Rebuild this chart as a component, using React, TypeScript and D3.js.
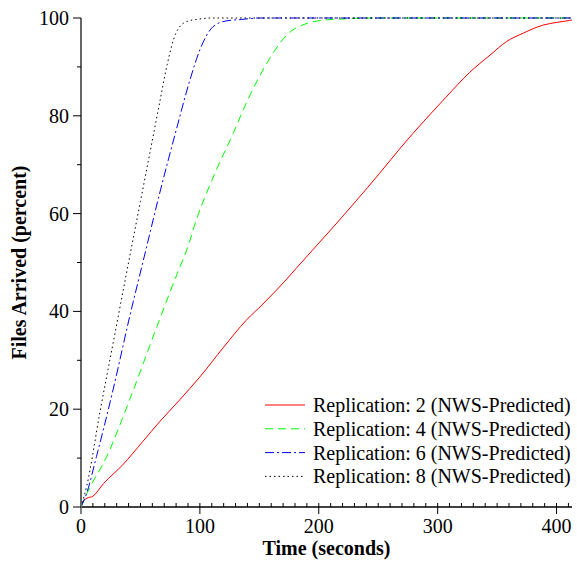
import React from "react";
import * as d3 from "d3";

const rep2T = [0, 2, 5, 10, 19, 35, 52, 66, 83, 100, 120, 139, 153, 173, 181, 195, 212, 251, 270, 307, 327, 344, 358, 372, 388, 400, 411, 413];
const rep2V = [0, 1.2, 1.8, 2.2, 4.8, 8.6, 13.4, 17.4, 21.9, 26.6, 32.7, 38.2, 41.5, 46.6, 48.8, 52.6, 57.2, 68.2, 73.8, 83.8, 88.9, 92.4, 95.2, 96.9, 98.5, 99.1, 99.5, 99.6];

const rep4T = [0, 5, 21.6, 41, 64, 83, 89, 97, 114, 128, 139, 150, 162, 173, 190, 206, 220, 240, 413];
const rep4V = [0, 2.8, 10.3, 22, 37, 49, 52.6, 58.7, 69, 76.4, 82.6, 88, 93, 96.5, 98.9, 99.6, 99.8, 100, 100];

const rep6T = [0, 5, 13, 27, 41, 53, 66, 80, 91.6, 100, 111, 122, 135, 150, 413];
const rep6V = [0, 3, 10.3, 24, 39, 51, 64, 77, 87.3, 93.5, 98.2, 99.4, 99.7, 100, 100];

const rep8T = [0, 5, 16, 27, 40, 50, 58, 66, 72.5, 80, 89, 97, 110, 413];
const rep8V = [0, 4.5, 19.5, 33.5, 50, 62.5, 72.5, 82.5, 90.5, 97, 99.3, 99.7, 100, 100];

const seriesNames = [
  "Replication: 2 (NWS-Predicted)",
  "Replication: 4 (NWS-Predicted)",
  "Replication: 6 (NWS-Predicted)",
  "Replication: 8 (NWS-Predicted)",
];
const xTicks = [0, 100, 200, 300, 400];
const yTicks = [0, 20, 40, 60, 80, 100];

const colors = ["#ff0000", "#00ff00", "#0000ff", "#000000"];
const dashes = ["none", "8,5", "9,3,2,3", "1.5,3"];

export default function App() {
  const W = 577, H = 562;
  const left = 81, right = 572, top = 18, bottom = 507;
  const x = d3.scaleLinear().domain([0, 413]).range([left, right]);
  const y = d3.scaleLinear().domain([0, 100]).range([bottom, top]);
  const line = d3.line<[number, number]>().x(d => x(d[0])).y(d => y(d[1])).curve(d3.curveMonotoneX);
  const series = [
    [rep2T, rep2V],
    [rep4T, rep4V],
    [rep6T, rep6V],
    [rep8T, rep8V],
  ].map(([t, v]) => t.map((tt, i) => [tt, v[i]] as [number, number]));

  const xMinor = d3.range(0, 414, 10);
  const yMinor = d3.range(10, 100, 20);
  const font = "'Liberation Serif', 'Times New Roman', serif";

  return (
    <svg width={W} height={H} style={{ position: "absolute", left: 0, top: 0, background: "#fff" }} fontFamily={font}>
      <rect width={W} height={H} fill="#fff" />
      {series.map((s, i) => (
        <path key={i} d={line(s) || ""} fill="none" stroke={colors[i]} strokeWidth={1}
          strokeDasharray={dashes[i]} />
      ))}
      {/* x axis */}
      <line x1={left} x2={right} y1={bottom} y2={bottom} stroke="#000" strokeWidth={1.5} />
      {xMinor.map(t => (
        <line key={"xm" + t} x1={x(t)} x2={x(t)} y1={bottom} y2={bottom - 4} stroke="#000" strokeWidth={1} />
      ))}
      {xTicks.map(t => (
        <g key={"xt" + t}>
          <line x1={x(t)} x2={x(t)} y1={bottom} y2={bottom + 7} stroke="#000" strokeWidth={1} />
          <text x={x(t)} y={533} textAnchor="middle" fontSize={20} fill="#000">{t}</text>
        </g>
      ))}
      {/* y axis */}
      <line x1={left} x2={left} y1={top} y2={bottom + 1} stroke="#666" strokeWidth={2} />
      {yMinor.map(v => (
        <line key={"ym" + v} x1={left} x2={left - 4} y1={y(v)} y2={y(v)} stroke="#000" strokeWidth={1} />
      ))}
      {yTicks.map(v => (
        <g key={"yt" + v}>
          <line x1={left} x2={left - 8} y1={y(v)} y2={y(v)} stroke="#000" strokeWidth={1} />
          <text x={69} y={y(v) + 7} textAnchor="end" fontSize={20} fill="#000">{v}</text>
        </g>
      ))}
      <text x={(left + right) / 2} y={555} textAnchor="middle" fontSize={20} fontWeight="bold">Time (seconds)</text>
      <text transform={`translate(26,${(top + bottom) / 2}) rotate(-90)`} textAnchor="middle" fontSize={20} fontWeight="bold">Files Arrived (percent)</text>
      {/* legend */}
      {seriesNames.map((n, i) => {
        const yy = 405 + i * 23.8;
        return (
          <g key={"lg" + i}>
            <line x1={265} x2={305} y1={yy} y2={yy} stroke={colors[i]} strokeWidth={1} strokeDasharray={dashes[i]} />
            <text x={313} y={yy + 7} fontSize={20} fill="#000">{n}</text>
          </g>
        );
      })}
    </svg>
  );
}
